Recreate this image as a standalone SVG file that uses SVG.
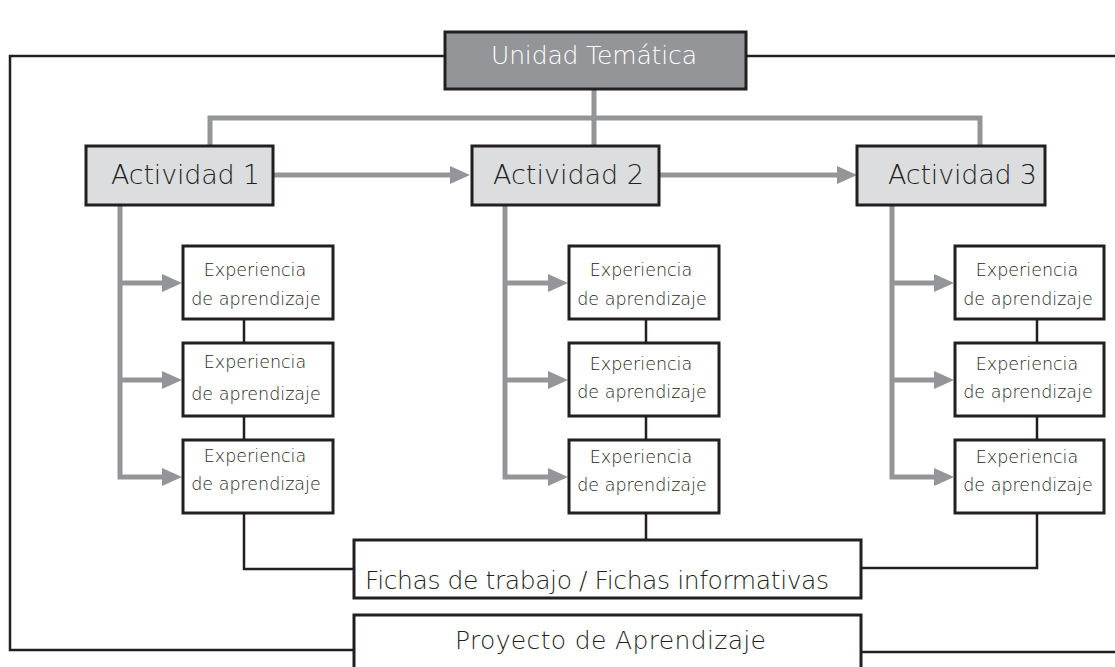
<svg xmlns="http://www.w3.org/2000/svg" width="1115" height="667" viewBox="0 0 1115 667">
<style>
.bg{fill:#ffffff}
.gray{fill:none;stroke:#939598;stroke-width:5;stroke-linejoin:miter;stroke-linecap:butt}
.blk{fill:none;stroke:#231f20;stroke-width:2.5;stroke-linejoin:miter}
.box{fill:#ffffff;stroke:#231f20;stroke-width:3}
.act{fill:#dcdddf;stroke:#231f20;stroke-width:3}
.top{fill:#939598;stroke:#231f20;stroke-width:3}
text{font-family:"DejaVu Sans","Liberation Sans",sans-serif;font-weight:200;fill:#231f20}
.exp{font-size:17.5px;text-anchor:middle}
.actt{font-size:27px}
.big{font-size:25px}
.white{fill:#ffffff}
</style>
<defs>
<marker id="ah" markerUnits="userSpaceOnUse" markerWidth="20" markerHeight="18" refX="0" refY="9" orient="auto" viewBox="0 0 20 18">
<path d="M0,0 L20,9 L0,18 Z" fill="#939598"/>
</marker>
</defs>
<rect class="bg" x="0" y="0" width="1115" height="667"/>

<g id="connectors">
<path class="blk" d="M445,56 H10 V650 H354"/>
<path class="blk" d="M746,56 H1115"/>
<path class="blk" d="M861,652 H1115"/>
<path class="blk" d="M244,319 V343 M244,416 V440 M244,513 V569 H354"/>
<path class="blk" d="M646,319 V343 M646,416 V440 M646,513 V540"/>
<path class="blk" d="M1037,319 V343 M1037,416 V440 M1037,513 V568 H861"/>
<path class="gray" d="M594,89 V146"/>
<path class="gray" d="M210,146 V118 H980 V146"/>
<path class="gray" d="M274,175 H450" marker-end="url(#ah)"/>
<path class="gray" d="M660,175 H837" marker-end="url(#ah)"/>
<path class="gray" d="M120,205 V477 H162" marker-end="url(#ah)"/>
<path class="gray" d="M120,283 H162" marker-end="url(#ah)"/>
<path class="gray" d="M120,380 H162" marker-end="url(#ah)"/>
<path class="gray" d="M505,205 V477 H548" marker-end="url(#ah)"/>
<path class="gray" d="M505,283 H548" marker-end="url(#ah)"/>
<path class="gray" d="M505,380 H548" marker-end="url(#ah)"/>
<path class="gray" d="M892,205 V477 H934" marker-end="url(#ah)"/>
<path class="gray" d="M892,283 H934" marker-end="url(#ah)"/>
<path class="gray" d="M892,380 H934" marker-end="url(#ah)"/>
</g>

<g id="unidad">
<rect class="top" x="445" y="32" width="301" height="57"/>
<text class="big white" x="594" y="64" text-anchor="middle" textLength="206">Unidad Temática</text>
</g>

<g id="actividad1">
<rect class="act" x="86" y="146" width="187" height="59"/>
<text class="actt" x="111" y="184" textLength="149">Actividad 1</text>
</g>
<g id="actividad2">
<rect class="act" x="472" y="146" width="187" height="59"/>
<text class="actt" x="493" y="184" textLength="151">Actividad 2</text>
</g>
<g id="actividad3">
<rect class="act" x="857" y="146" width="188" height="59"/>
<text class="actt" x="888" y="184" textLength="149">Actividad 3</text>
</g>

<g id="exp1a"><rect class="box" x="183" y="246" width="150" height="73"/>
<text class="exp" x="255" y="276">Experiencia</text><text class="exp" x="256" y="305">de aprendizaje</text></g>
<g id="exp1b"><rect class="box" x="183" y="343" width="150" height="73"/>
<text class="exp" x="255" y="368">Experiencia</text><text class="exp" x="256" y="400">de aprendizaje</text></g>
<g id="exp1c"><rect class="box" x="183" y="440" width="150" height="73"/>
<text class="exp" x="255" y="462">Experiencia</text><text class="exp" x="256" y="490">de aprendizaje</text></g>

<g id="exp2a"><rect class="box" x="569" y="246" width="150" height="73"/>
<text class="exp" x="641" y="276">Experiencia</text><text class="exp" x="642" y="305">de aprendizaje</text></g>
<g id="exp2b"><rect class="box" x="569" y="343" width="150" height="73"/>
<text class="exp" x="641" y="370">Experiencia</text><text class="exp" x="642" y="398">de aprendizaje</text></g>
<g id="exp2c"><rect class="box" x="569" y="440" width="150" height="73"/>
<text class="exp" x="641" y="463">Experiencia</text><text class="exp" x="642" y="491">de aprendizaje</text></g>

<g id="exp3a"><rect class="box" x="955" y="246" width="149" height="73"/>
<text class="exp" x="1027" y="276">Experiencia</text><text class="exp" x="1028" y="305">de aprendizaje</text></g>
<g id="exp3b"><rect class="box" x="955" y="343" width="149" height="73"/>
<text class="exp" x="1027" y="370">Experiencia</text><text class="exp" x="1028" y="398">de aprendizaje</text></g>
<g id="exp3c"><rect class="box" x="955" y="440" width="149" height="73"/>
<text class="exp" x="1027" y="463">Experiencia</text><text class="exp" x="1028" y="491">de aprendizaje</text></g>

<g id="fichas">
<rect class="box" x="354" y="540" width="507" height="58"/>
<text class="big" x="365" y="589" textLength="464">Fichas de trabajo / Fichas informativas</text>
</g>
<g id="proyecto">
<rect class="box" x="354" y="615" width="507" height="70"/>
<text class="big" x="455" y="649" textLength="311">Proyecto de Aprendizaje</text>
</g>
</svg>
